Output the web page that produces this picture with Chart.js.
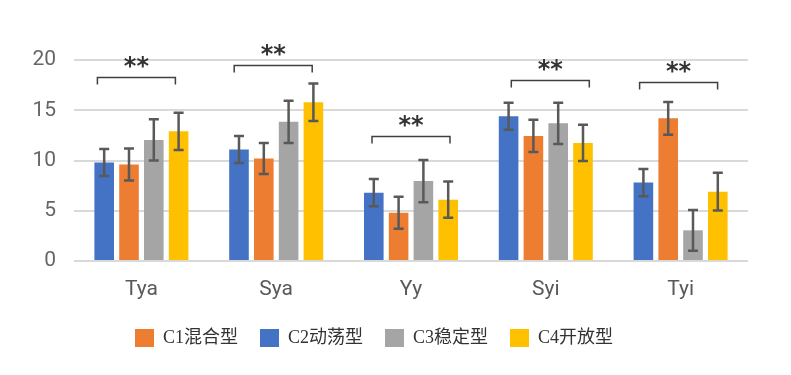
<!DOCTYPE html>
<html>
<head>
<meta charset="utf-8">
<script src="https://cdn.jsdelivr.net/npm/chart.js@4.4.1/dist/chart.umd.min.js"></script>
<style>
  html, body { margin: 0; padding: 0; background: #fff; }
  #wrap { width: 791px; height: 375px; position: relative; }
</style>
</head>
<body>
<div id="wrap"><canvas id="chart"></canvas></div>
<script>
// categories and values
const categories = ["Tya", "Sya", "Yy", "Syi", "Tyi"];
const yTicks = [0, 5, 10, 15, 20];

// bar order in each group: C2 (blue), C1 (orange), C3 (gray), C4 (yellow)
const c2Means = [9.8, 11.1, 6.8, 14.4, 7.8];
const c2Err   = [1.35, 1.35, 1.35, 1.35, 1.35];
const c1Means = [9.6, 10.2, 4.8, 12.45, 14.2];
const c1Err   = [1.6, 1.55, 1.6, 1.6, 1.63];
const c3Means = [12.05, 13.85, 7.95, 13.7, 3.05];
const c3Err   = [2.05, 2.1, 2.1, 2.05, 2.03];
const c4Means = [12.9, 15.8, 6.1, 11.75, 6.9];
const c4Err   = [1.85, 1.87, 1.8, 1.8, 1.87];

// significance brackets (value where the bracket sits) and labels
const sigLevels = [18.3, 19.5, 12.4, 18.0, 17.8];
const sigLabels = ["**", "**", "**", "**", "**"];

const errorBarPlugin = {
  id: "errorBars",
  afterDatasetsDraw(chart) {
    const ctx = chart.ctx;
    const y = chart.scales.y;
    ctx.save();
    ctx.strokeStyle = "#595959";
    ctx.lineWidth = 2.5;
    chart.data.datasets.forEach((ds, di) => {
      const meta = chart.getDatasetMeta(di);
      meta.data.forEach((bar, i) => {
        const m = ds.data[i];
        const e = ds.errors[i];
        const top = y.getPixelForValue(m + e);
        const bot = y.getPixelForValue(m - e);
        const x = bar.x;
        ctx.beginPath();
        ctx.moveTo(x, top); ctx.lineTo(x, bot);
        ctx.moveTo(x - 5, top); ctx.lineTo(x + 5, top);
        ctx.moveTo(x - 5, bot); ctx.lineTo(x + 5, bot);
        ctx.stroke();
      });
    });
    ctx.restore();
  }
};

const sigPlugin = {
  id: "sigBrackets",
  afterDatasetsDraw(chart, args, opts) {
    const ctx = chart.ctx;
    const x = chart.scales.x;
    const y = chart.scales.y;
    ctx.save();
    ctx.strokeStyle = "#404040";
    ctx.lineWidth = 1.5;
    ctx.fillStyle = "#333";
    ctx.font = 'bold 24px "DejaVu Sans"';
    ctx.textAlign = "center";
    ctx.textBaseline = "alphabetic";
    sigLevels.forEach((lvl, i) => {
      const cx = x.getPixelForValue(i) + opts.shift[i];
      const by = Math.round(y.getPixelForValue(lvl)) + 0.5;
      const l = cx - 39, r = cx + 39;
      ctx.beginPath();
      ctx.moveTo(l, by + 7); ctx.lineTo(l, by); ctx.lineTo(r, by); ctx.lineTo(r, by + 7);
      ctx.stroke();
      ctx.fillText(sigLabels[i], cx, by - 4);
    });
    ctx.restore();
  }
};

const canvas = document.getElementById("chart");
canvas.width = 791;
canvas.height = 375;

new Chart(canvas.getContext("2d"), {
  type: "bar",
  data: {
    labels: categories,
    datasets: [
      { label: "C2动荡型", data: c2Means, errors: c2Err, backgroundColor: "#4472C4" },
      { label: "C1混合型", data: c1Means, errors: c1Err, backgroundColor: "#ED7D31" },
      { label: "C3稳定型", data: c3Means, errors: c3Err, backgroundColor: "#A5A5A5" },
      { label: "C4开放型", data: c4Means, errors: c4Err, backgroundColor: "#FFC000" },
    ],
  },
  options: {
    responsive: false,
    animation: false,
    devicePixelRatio: 1,
    categoryPercentage: 0.736,
    barPercentage: 0.79,
    layout: { padding: { left: 0, right: 43, top: 60, bottom: 18 } },
    plugins: {
      tooltip: { enabled: false },
      sigBrackets: { shift: [-5, -3, 0, 4.5, -2] },
      legend: {
        position: "bottom",
        labels: {
          sort: (a, b) => a.text.localeCompare(b.text),
          boxWidth: 19,
          boxHeight: 18,
          padding: 22,
          color: "#333",
          font: { family: '"Liberation Serif", "Noto Sans CJK SC"', size: 18 },
        },
      },
    },
    scales: {
      x: {
        grid: { display: false, drawTicks: false },
        border: { display: false },
        ticks: {
          color: "#595959",
          padding: 16,
          font: { family: "Roboto", size: 21 },
        },
        afterFit(scale) { scale.height = 46; },
      },
      y: {
        min: 0,
        max: 20,
        afterBuildTicks(scale) { scale.ticks = yTicks.map(v => ({ value: v })); },
        grid: { color: "#d9d9d9", lineWidth: 2, drawTicks: false },
        border: { display: false },
        ticks: {
          color: "#666",
          padding: 18,
          font: { family: "Roboto", size: 21 },
        },
        afterFit(scale) { scale.width = 74; },
      },
    },
  },
  plugins: [errorBarPlugin, sigPlugin],
});
</script>
</body>
</html>
